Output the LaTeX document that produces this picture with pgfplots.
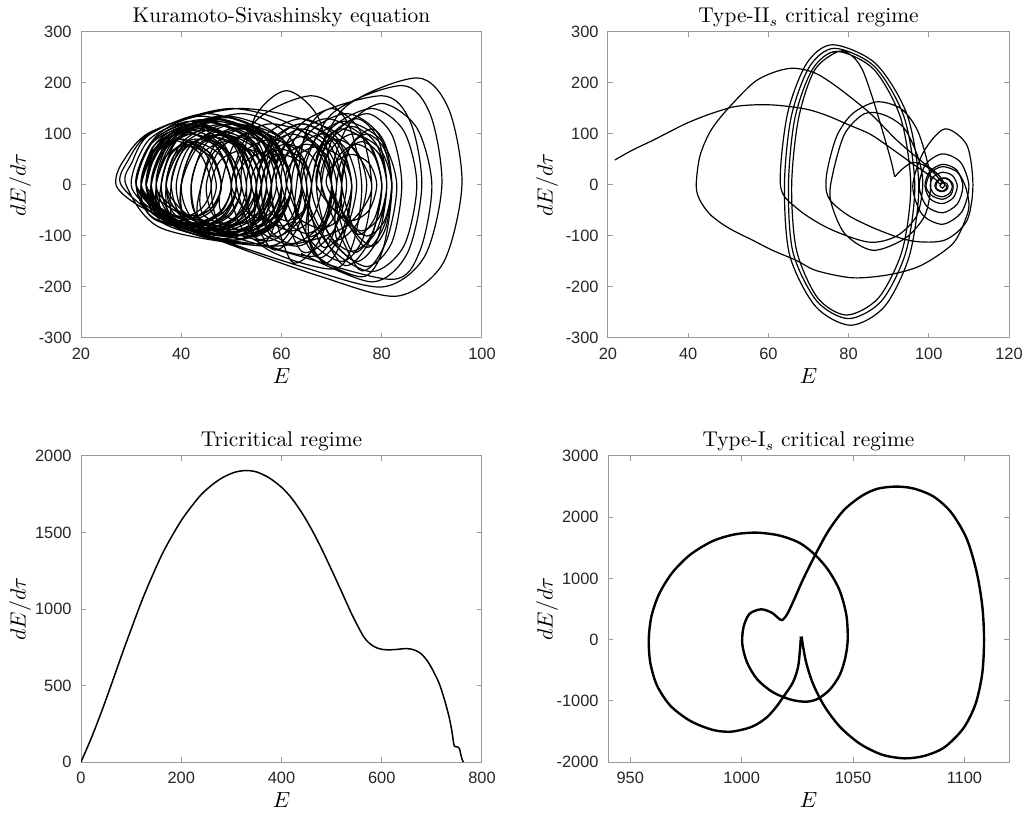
\documentclass[border=0pt]{standalone}
\usepackage{fontspec}
\usepackage{pgfplots}
\pgfplotsset{compat=1.18}
\usepgfplotslibrary{groupplots}
\newfontfamily\ticksans{Liberation Sans}
\definecolor{axgray}{gray}{0.6}
\definecolor{txtgray}{rgb}{0.15,0.15,0.15}

\pgfplotsset{
  phase/.style={
    scale only axis, width=200.5pt, height=153pt,
    axis line style={axgray, line width=0.5pt},
    tick style={axgray, line width=0.5pt},
    tick align=inside, major tick length=2.5pt,
    scaled ticks=false,
    tick label style={font=\ticksans\fontsize{8.2}{9}\selectfont, text=txtgray, inner sep=0pt,
      /pgf/number format/assume math mode=true, /pgf/number format/1000 sep={}},
    xticklabel style={yshift=-5pt},
    yticklabel style={xshift=-4.5pt},
    every axis title shift=0pt,
    title style={font=\fontsize{10.7}{12}\selectfont, at={(axis description cs:0.5,1.03)}, anchor=base, inner sep=0pt},
    xlabel style={font=\fontsize{11}{12}\selectfont, at={(axis description cs:0.5,-0.098)}, anchor=north, inner sep=0pt},
    ylabel style={font=\fontsize{11}{12}\selectfont, at={(axis description cs:-0.152,0.5)}, anchor=center, inner sep=0pt},
    xlabel={$E$}, ylabel={$dE/d\tau$},
  },
}

\begin{document}
\begin{tikzpicture}
\begin{groupplot}[group style={group size=2 by 2, horizontal sep=63pt, vertical sep=59pt}, phase]

% Kuramoto-Sivashinsky
\nextgroupplot[title={Kuramoto-Sivashinsky equation},
  xmin=20, xmax=100, ymin=-300, ymax=300,
  xtick={20,40,60,80,100}, ytick={-300,-200,-100,0,100,200,300}]
\addplot[black, line width=0.6pt, smooth] coordinates {
 (32,0) (34.3,74) (40,105) (47.1,74) (50,0) (47.7,-53) (42,-75) (34.9,-53)
 (30,0) (33.5,88) (42,125) (49.8,88) (53,0) (50.7,-64) (45,-90) (34.4,-64)
 (31,0) (34.2,85) (42,120) (51.2,85) (55,0) (51.8,-60) (44,-85) (34.8,-60)
 (31,0) (34.8,90.5) (44,128) (53.2,90.5) (57,0) (54.9,-71) (50,-100) (36.6,-71)
 (33,0) (35.3,78) (41,110) (48.1,78) (51,0) (49,-57) (44,-80) (36.2,-57)
 (36,0) (38.1,64) (43,90) (49.4,64) (52,0) (50,-57) (45,-80) (38.6,-57)
 (37,0) (38.5,57) (42,80) (46.2,57) (48,0) (46.5,-46) (43,-65) (38.8,-46)
 (35,0) (40,99) (52,140) (61.2,99) (65,0) (63,-88) (58,-125)
 (52,0) (54.6,131) (61,185) (67.4,131) (70,0) (68,-85) (63,-120) (55.2,-85)
 (55,0) (56.8,57) (61,80) (66,57) (68,0) (66.2,-64) (62,-90) (57,-64)
 (56,0) (57.2,42) (60,60) (64.2,42) (66,0) (64.5,-49) (61,-70) (57.5,-49)
 (58,0) (59.8,67) (64,95) (68.2,67) (70,0) (68.5,-78) (65,-110) (60,-78)
 (57,0) (59,78) (64,110) (69.7,78) (72,0) (70,-71) (65,-100)
 (66,0) (67.8,78) (72,110) (77.7,78) (80,0) (78.2,-92) (74,-130)
 (70,0) (71.5,57) (75,80) (78.5,57) (80,0) (78.5,-67) (75,-95)
 (72,0) (73.5,71) (77,100) (80.5,71) (82,0) (80.5,-71) (77,-100) (73.5,-71)
 (69,0) (70.5,42) (74,60) (77.5,42) (79,0) (77.5,-49) (74,-70) (70.5,-49)
 (68,0) (70.6,99) (77,140) (82,99) (84,0) (82,-113) (77,-160) (70.6,-113)
 (66,0) (72.2,148) (87,210) (93.4,148) (96,0) (92.2,-154) (83,-218)
 (68,-180) (52,-125) (38,-72) (30.5,-34)
 (27,0) (28.3,45) (34.3,106) (52,150) (70.4,106) (78,0) (72.1,-85) (58,-120) (36.1,-85)
 (29,0) (30.2,45) (33.7,99) (45,140) (57,99) (62,0) (57.9,-67) (48,-95) (34.6,-67)
 (32,0) (37,95) (49,135) (59.6,95) (64,0) (62,-85) (57,-120) (39.3,-85)
 (33,0) (37.4,95) (48,135) (56.5,95) (60,0) (58.5,-81) (55,-115) (39.4,-81)
 (34,0) (37.8,92) (47,130) (54.8,92) (58,0) (56.2,-74) (52,-105) (39.3,-74)
 (35,0) (37.6,83) (44,118) (51.1,83) (54,0) (52,-64) (47,-90) (38.5,-64)
 (36,0) (39.2,88) (47,125) (56.2,88) (60,0) (58,-71) (53,-100) (41,-71)
 (38,0) (40.3,67) (46,95) (53.1,67) (56,0) (53.7,-60) (48,-85) (40.9,-60)
 (39,0) (41.6,74) (48,105) (55.1,74) (58,0) (55.7,-65) (50,-92) (42.2,-65)
 (40,0) (43.2,85) (51,120) (58.8,85) (62,0) (59.4,-71) (53,-100) (43.8,-71)
 (42,0) (44,60) (49,85) (54.7,60) (57,0) (55,-57) (50,-80) (44.3,-57)
 (44,0) (46.9,81) (54,115) (61.1,81) (64,0) (62,-78) (57,-110) (47.8,-78)
 (46,0) (48,50) (53,70) (58,50) (60,0) (58,-53) (53,-75) (48,-53)
 (48,0) (50.9,85) (58,120) (67.9,85) (72,0) (70.2,-99) (66,-140) (53.3,-99)
 (50,0) (54.7,124) (66,175) (73.1,124) (76,0) (74.2,-117) (70,-165) (55.9,-117)
 (53,0) (56.2,92) (64,130) (71.1,92) (74,0) (72.2,-106) (68,-150)
 (61,0) (62.8,53) (67,75) (72,53) (74,0) (72.2,-60) (68,-85) (63,-60)
 (63,0) (65,106) (70,150) (75.7,106) (78,0) (76.2,-106) (72,-150) (65.6,-106)
 (62,0) (65.2,99) (73,140) (79.4,99) (82,0) (80.2,-127) (76,-180) (66.1,-127)
 (66,0) (69.5,106) (78,150) (84.4,106) (87,0) (84.4,-120) (78,-170) (69.5,-120)
 (64,0) (69.9,138) (84,195) (89.7,138) (92,0) (88.5,-141) (80,-200)
 (64,-160) (48,-108) (35,-58)
 (28,0) (29.2,45) (34.4,106) (50,150) (64.1,106) (70,0) (67.7,-106) (62,-150)
 (58,0) (64.4,124) (80,175) (85.7,124) (88,0) (85.1,-134) (78,-190) (63.9,-134)
};
\addplot[black, line width=0.6pt, smooth] coordinates {
 (33,0) (35.1,63) (40,90) (45.6,63) (48,0) (45.6,-49) (40,-70) (35.1,-49)
 (33,0) (35.7,70) (42,100) (48.3,70) (51,0) (48.3,-54.6) (42,-78) (35.7,-54.6)
 (32,0) (35.3,78.4) (43,112) (48.6,78.4) (51,0) (48.6,-57.4) (43,-82) (35.3,-57.4)
 (32,0) (35.6,80.5) (44,115) (51,80.5) (54,0) (51,-61.6) (44,-88) (35.6,-61.6)
 (34,0) (37.3,75.6) (45,108) (51.3,75.6) (54,0) (51.3,-58.8) (45,-84) (37.3,-58.8)
 (33,0) (36.9,85.4) (46,122) (54.4,85.4) (58,0) (54.4,-66.5) (46,-95) (36.9,-66.5)
 (34,0) (38.2,89.6) (48,128) (55.7,89.6) (59,0) (55.7,-70) (48,-100) (38.2,-70)
 (34,0) (38.5,92.4) (49,132) (58.1,92.4) (62,0) (58.1,-77) (49,-110) (38.5,-77)
 (37,0) (40,68.6) (47,98) (53.3,68.6) (56,0) (53.3,-61.6) (47,-88) (40,-61.6)
 (37,0) (40.9,84) (50,120) (57.7,84) (61,0) (57.7,-70) (50,-100) (40.9,-70)
 (40,0) (43.6,77) (52,110) (59,77) (62,0) (59,-68.6) (52,-98) (43.6,-68.6)
 (44,0) (46.7,66.5) (53,95) (58.6,66.5) (61,0) (58.6,-63) (53,-90) (46.7,-63)
 (45,0) (48,73.5) (55,105) (61.3,73.5) (64,0) (61.3,-73.5) (55,-105)
 (51,0) (52.8,45.5) (57,65) (60.5,45.5) (62,0) (60.5,-49) (57,-70) (52.8,-49)
 (50,0) (52.4,63) (58,90) (63.6,63) (66,0) (63.6,-70) (58,-100)
 (54,0) (55.8,49) (60,70) (64.2,49) (66,0) (64.2,-56) (60,-80) (55.8,-56)
 (55,0) (57.1,70) (62,100) (67.6,70) (70,0) (67.6,-80.5) (62,-115) (57.1,-80.5)
 (55,0) (57.7,84) (64,120) (70.3,84) (73,0) (70.3,-91) (64,-130)
 (59,0) (60.8,56) (65,80) (69.2,56) (71,0) (69.2,-66.5) (65,-95) (60.8,-66.5)
 (61,0) (63.1,70) (68,100) (72.9,70) (75,0) (72.9,-84) (68,-120)
 (65,0) (66.8,63) (71,90) (75.2,63) (77,0) (75.2,-73.5) (71,-105)
 (71,0) (72.5,59.5) (76,85) (79.5,59.5) (81,0) (79.5,-63) (76,-90) (72.5,-63)
 (72,0) (73.8,77) (78,110) (80.8,77) (82,0) (80.8,-84) (78,-120) (73.8,-84)
 (67,0) (69.1,80.5) (74,115) (78.9,80.5) (81,0) (78.9,-91) (74,-130) (69.1,-91)
 (67,0) (69.4,91) (75,130) (79.2,91) (81,0) (79.2,-105) (75,-150) (69.4,-105)
};
\addplot[black, line width=0.6pt, smooth] coordinates {
 (33,0) (34.9,63) (39.3,90) (44.7,63) (47,0) (45.3,-45.5) (41.4,-65) (35.5,-45.5)
 (32,0) (33.9,61.6) (38.3,88) (43.7,61.6) (46,0) (44.3,-43.4) (40.4,-62) (34.5,-43.4)
 (31,0) (33.5,75.6) (39.5,108) (46.9,75.6) (50,0) (47.7,-56) (42.4,-80) (34.4,-56)
 (34,0) (36.4,70) (42.1,100) (49,70) (52,0) (49.8,-54.6) (44.8,-78) (37.2,-54.6)
 (32,0) (35,82.6) (41.9,118) (50.4,82.6) (54,0) (51.4,-63) (45.2,-90) (36,-63)
 (35,0) (36.8,54.6) (40.9,78) (45.9,54.6) (48,0) (46.4,-42) (42.8,-60) (37.3,-42)
 (36,0) (37.9,59.5) (42.3,85) (47.7,59.5) (50,0) (48.3,-49) (44.4,-70) (38.5,-49)
 (33,0) (36.4,87.5) (44.3,125) (53.9,87.5) (58,0) (55,-68.6) (48,-98) (37.5,-68.6)
 (35,0) (37.9,78.4) (44.5,112) (52.5,78.4) (56,0) (53.5,-61.6) (47.6,-88) (38.8,-61.6)
 (31,0) (34.9,94.5) (44,135) (55.2,94.5) (60,0) (56.5,-73.5) (48.4,-105) (36.2,-73.5)
 (34,0) (37.8,91) (46.6,130) (57.4,91) (62,0) (58.6,-75.6) (50.8,-108) (39,-75.6)
 (38,0) (40.3,66.5) (45.7,95) (52.2,66.5) (55,0) (53,-57.4) (48.2,-82) (41.1,-57.4)
 (37,0) (40.1,82.6) (47.4,118) (56.2,82.6) (60,0) (57.2,-68.6) (50.8,-98) (41.1,-68.6)
 (40,0) (42.4,70) (48.1,100) (55,70) (58,0) (55.8,-61.6) (50.8,-88) (43.2,-61.6)
 (42,0) (44.7,78.4) (51,112) (58.7,78.4) (62,0) (59.6,-70) (54,-100)
 (56,0) (58.4,84) (64.1,120) (71,84) (74,0) (71.8,-98) (66.8,-140)
 (60,0) (62.7,91) (69,130) (76.7,91) (80,0) (77.6,-108.5) (72,-155)
 (64,0) (66.6,87.5) (72.6,125) (79.9,87.5) (83,0) (80.7,-115.5) (75.4,-165)
 (68,0) (69.9,70) (74.3,100) (79.7,70) (82,0) (80.3,-84) (76.4,-120)
 (70,0) (73,112) (80,160) (87,112) (90,0) (87.6,-129.5) (82,-185)
 (62,-135) (45,-85) (34,-40) (32,0) (34.5,70)
};

% Type-II_s
\nextgroupplot[title={Type-II$_s$ critical regime},
  xmin=20, xmax=120, ymin=-300, ymax=300,
  xtick={20,40,60,80,100,120}, ytick={-300,-200,-100,0,100,200,300}]
\addplot[black, line width=0.6pt, smooth] coordinates {
 (21.7,49) (26,68) (31.3,88) (35.5,105) (39.6,121) (45,138) (51.2,153) (56,157)
 (61,157) (66,153) (70.4,147) (75,135) (80,118) (85.3,100) (89.5,78) (93.6,55)
 (97,36) (100,20) (102,9)
 (102.7,2.2) (103.4,5) (104.3,3.7) (104.8,-2) (104.5,-9.1) (103.4,-13) (102.2,-10.5) (101.5,-2)
 (102,7.9) (103.4,13.4) (105,9.9) (105.85,-2) (105.2,-15.9) (103.4,-23) (101.35,-17.8) (100.35,-2)
 (101.1,15.7) (103.4,24.9) (105.9,18.4) (107.1,-2) (106.1,-25) (103.4,-36.5) (100.4,-27.7) (99.05,-2)
 (100.2,26.3) (103.4,40.5) (106.9,29.8) (108.5,-2) (107.1,-37.4) (103.4,-54.5) (99.4,-40.9) (97.6,-2)
 (99.2,40.4) (103.4,61) (107.9,44.7) (110,-2) (108.2,-52.9) (103.4,-77) (98.3,-57.2) (96,-2)
 (98.7,65) (104,110) (109.5,78) (111,0) (109.5,-70) (104,-108) (96,-110) (88,-90) (80,-60) (75,-25)
 (74.5,20) (77,95) (81,140) (87,163) (93,150) (97,110) (99.5,50) (100.5,0) (99,-60) (94,-105) (86,-128) (79,-95) (75.5,-30)
 (76,20) (79,100) (84,140) (89,137) (94,110) (97.5,50) (98.5,0) (97,-60) (92,-100) (85,-112) (75,-85) (67,-45)
 (63,0) (64.7,137.5) (69.5,238) (76,275) (86.75,238) (94.6,137.5) (97.5,0) (95.2,-137.5) (89,-238) (80.5,-275) (71.75,-238) (65.3,-137.5)
 (64,0) (65.7,134) (70.25,232) (76.5,268) (86.5,232) (93.8,134) (96.5,0) (94.3,-131) (88.25,-227) (80,-262) (72,-227) (66.1,-131)
 (65,0) (66.6,131) (71,227) (77,262) (86.25,227) (93,131) (95.5,0) (93.4,-127.5) (87.5,-221) (79.5,-255) (72.25,-221) (67,-127.5)
 (65.8,0) (67.5,130) (71.5,225) (77.5,262) (81,252) (83.5,225) (86,170) (88.5,105) (90.5,50) (91.5,16)
};
\addplot[black, line width=0.6pt, smooth] coordinates {
 (91.5,16) (93.5,32) (96,44) (99,38) (101.5,22) (103,8) (104.5,-4) (103.4,-12) (101.8,-6)
 (102.3,8) (104.2,14) (106,2) (105.6,-18) (103.4,-28) (100.6,-20) (99.3,-2) (100.5,24)
 (103.4,36) (107,26) (109,0) (110,-35) (109.4,-62) (106,-115) (98,-158) (90,-176)
 (81,-182) (72,-168) (67,-148) (61,-128) (56,-108) (50,-84) (45.5,-58) (42.8,-28) (42,0)
 (42.9,56) (45.5,105) (49.6,147) (56.2,200) (61,220) (66,229) (71.5,220) (77,193)
 (85.3,141) (92,88) (97.8,49) (102,23) (103.5,8) (104,0) (103.4,-6) (102.8,-1) (103.3,3)
};

% Tricritical
\nextgroupplot[title={Tricritical regime},
  xmin=0, xmax=800, ymin=0, ymax=2000,
  xtick={0,200,400,600,800}, ytick={0,500,1000,1500,2000}]
\addplot[black, line width=0.75pt, smooth] coordinates {
 (0,0) (21,160) (42,338) (62,520) (82,706) (102,885) (122,1059) (142,1215) (162,1359)
 (182,1480) (202,1588) (222,1677) (241,1752) (261,1810) (281,1856) (305,1892)
 (328,1905) (350,1896) (375,1858) (401,1793) (421,1721) (441,1627) (461,1515)
 (481,1387) (501,1248) (521,1105) (541,961) (561,835) (571,790) (581,762)
 (591,745) (601,736) (615,733) (630,736) (647,741) (660,737) (672,722) (681,700)
 (690,665) (700,612) (714,518) (724,420) (734,300) (740,200) (744,112) (747,101)
 (752,98) (755,88) (757,60) (760,20) (763,0)
};

% Type-I_s
\nextgroupplot[title={Type-I$_s$ critical regime},
  xmin=940, xmax=1120, ymin=-2000, ymax=3000,
  xtick={950,1000,1050,1100}, ytick={-2000,-1000,0,1000,2000,3000}]
\addplot[black, line width=1.2pt, smooth] coordinates {
 (1026.6,50) (1026.2,-150) (1025.3,-450) (1023,-700) (1019,-920) (1015.5,-1100)
 (1011.6,-1260) (1007,-1380) (1002.5,-1450) (995,-1505) (987,-1475) (977,-1330)
 (968,-1080) (962,-750) (959,-380) (958.3,0) (959.5,380) (963,750) (969,1100)
 (977,1390) (987,1610) (997,1720) (1007,1747) (1017,1700) (1026,1580) (1033,1383)
 (1039,1130) (1044,800) (1047,400) (1047.6,0) (1046.5,-300) (1044,-580)
 (1039.5,-820) (1034,-970) (1028.8,-1015) (1022,-980) (1014,-860) (1007,-650)
 (1002.5,-380) (1000.3,-80) (1000.8,200) (1003.5,420) (1008.7,495) (1013.5,440)
 (1016.5,350) (1018.3,320) (1020.5,420) (1023.5,650) (1027.5,980) (1033,1383)
 (1039,1780) (1046,2120) (1054,2350) (1061,2465) (1069,2500) (1077,2470)
 (1086,2340) (1094,2080) (1101,1650) (1105.5,1100) (1108,550) (1108.8,0)
 (1108,-550) (1105,-1050) (1099.5,-1450) (1091,-1760) (1082,-1900) (1073,-1940)
 (1063,-1880) (1053,-1700) (1044,-1420) (1037,-1080) (1032,-720) (1029,-380)
 (1027.5,-100) (1026.9,50)
};
\end{groupplot}
\path ([xshift=-40.5pt,yshift=16pt]group c1r1.north west) rectangle ([xshift=8.5pt,yshift=-26pt]group c2r2.south east);
\end{tikzpicture}
\end{document}
